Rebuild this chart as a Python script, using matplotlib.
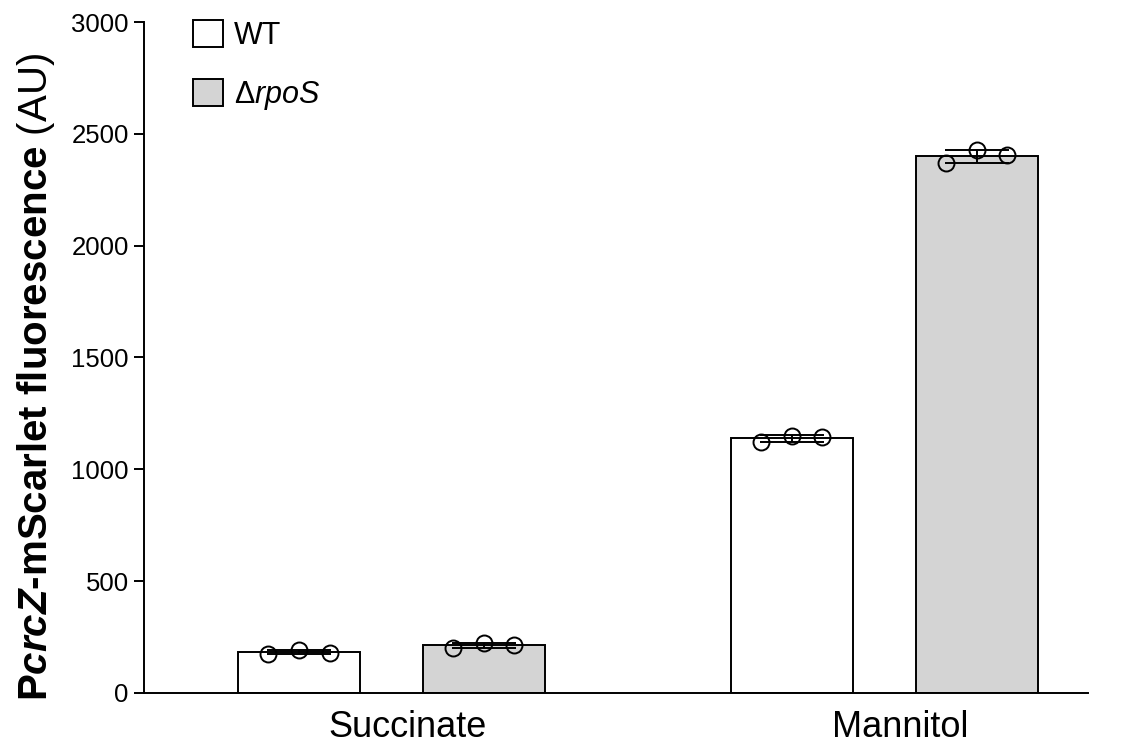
import numpy as np
import matplotlib
matplotlib.use("Agg")
import matplotlib.pyplot as plt
from matplotlib.patches import Patch

plt.rcParams['font.family'] = ['Liberation Sans', 'DejaVu Sans']
plt.rcParams['mathtext.fontset'] = 'custom'
plt.rcParams['mathtext.rm'] = 'Liberation Sans'
plt.rcParams['mathtext.it'] = 'Liberation Sans:italic'
plt.rcParams['mathtext.bf'] = 'Liberation Sans:bold'
plt.rcParams['mathtext.bfit'] = 'Liberation Sans:bold:italic'

# data
conditions = ['Succinate', 'Mannitol']
strains = ['WT', r'Δ$\mathit{rpoS}$']
wt_reps = [[175, 192, 180], [1121, 1149, 1146]]
rpos_reps = [[202, 224, 214], [2368, 2427, 2405]]
yticks = [0, 500, 1000, 1500, 2000, 2500, 3000]

colors = ['white', '#d4d4d4']
group_x = np.array([0.0, 2.665])
offsets = [-0.5, 0.5]
bar_w = 0.66
jitter = [-0.165, 0.0, 0.165]

fig = plt.figure(figsize=(11.25, 7.49), dpi=100)
ax = fig.add_axes([0.128, 0.0748, 0.839, 0.8958])

for reps, off, col in zip([wt_reps, rpos_reps], offsets, colors):
    arr = np.array(reps, dtype=float)
    means = arr.mean(axis=1)
    sds = arr.std(axis=1, ddof=1)
    xs = group_x + off
    ax.bar(xs, means, width=bar_w, color=col, edgecolor='black', linewidth=1.4, zorder=1)
    ax.errorbar(xs, means, yerr=sds, fmt='none', ecolor='black', elinewidth=1.4,
                capsize=23, capthick=1.4, zorder=3)
    for i, x in enumerate(xs):
        ax.plot(x + np.array(jitter), arr[i], 'o', mfc='none', mec='black',
                mew=1.4, ms=11.5, zorder=4)

ax.set_xlim(-1.338, 3.765)
ax.set_ylim(0, 3000)
ax.set_yticks(yticks)
ax.set_yticklabels([str(t) for t in yticks], fontsize=18.5)
# category labels sit a little right of the group centre in the original
ax.set_xticks(group_x + 0.085)
ax.set_xticklabels(conditions, fontsize=26)
ax.tick_params(axis='x', length=0, pad=12)
ax.tick_params(axis='y', length=7, width=1.4, pad=4)
for s in ['top', 'right']:
    ax.spines[s].set_visible(False)
for s in ['left', 'bottom']:
    ax.spines[s].set_linewidth(1.4)

ax.set_ylabel(r'P$\mathbfit{crcZ}$-mScarlet fluorescence $\mathrm{(AU)}$',
              fontsize=29, fontweight='bold')
ax.yaxis.set_label_coords(-0.092, 0.4717)

handles = [Patch(facecolor=c, edgecolor='black', linewidth=1.4) for c in colors]
ax.legend(handles, strains, loc='upper left', bbox_to_anchor=(0.052, 1.0025),
          frameon=False, fontsize=22, handlelength=0.97, handleheight=0.97,
          handletextpad=0.36, labelspacing=0.9, borderpad=0, borderaxespad=0)

fig.savefig('out.png', dpi=100)
